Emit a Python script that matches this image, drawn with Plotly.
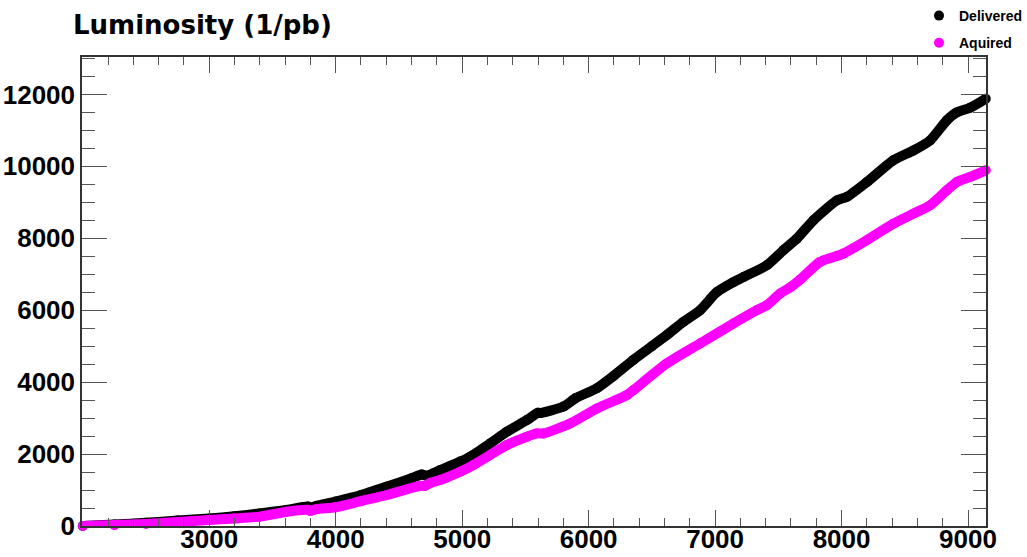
import plotly.graph_objects as go

# ---- data ----
delivered_x = [2000, 2250, 2500, 2750, 3000, 3200, 3400, 3600, 3780, 3800, 3850, 4000, 4200,
               4400, 4600, 4680, 4720, 4830, 4984, 5063, 5221, 5353, 5511, 5600, 5620, 5800,
               5900, 6065, 6200, 6354, 6500, 6618, 6750, 6881, 7013, 7145, 7224, 7409, 7540,
               7646, 7777, 7962, 8041, 8199, 8410, 8568, 8700, 8832, 8911, 9016, 9140]
delivered_y = [0, 40, 90, 150, 210, 270, 350, 440, 540, 510, 560, 680, 860,
               1090, 1330, 1430, 1400, 1560, 1790, 1926, 2296, 2620, 2944, 3150, 3140, 3320,
               3560, 3830, 4180, 4620, 5000, 5310, 5680, 6000, 6500, 6780, 6920, 7250, 7670,
               7990, 8500, 9050, 9150, 9560, 10170, 10440, 10720, 11280, 11500, 11630, 11880]

aquired_x = [2000, 2250, 2500, 2750, 3000, 3200, 3400, 3614, 3780, 3800, 3850, 4000, 4200,
             4405, 4668, 4700, 4750, 4826, 4984, 5089, 5221, 5353, 5511, 5590, 5643, 5854,
             6065, 6302, 6354, 6618, 6881, 7145, 7330, 7409, 7514, 7600, 7672, 7830, 8014,
             8199, 8410, 8568, 8700, 8832, 8911, 9016, 9140]
aquired_y = [0, 25, 56, 110, 167, 210, 260, 398, 450, 420, 470, 520, 690,
             861, 1120, 1110, 1200, 1278, 1509, 1694, 1972, 2250, 2481, 2574, 2574, 2852,
             3269, 3639, 3778, 4519, 5074, 5630, 6000, 6139, 6463, 6650, 6850, 7343, 7574,
             7944, 8407, 8685, 8917, 9333, 9565, 9704, 9889]

x_tick_vals = [3000, 4000, 5000, 6000, 7000, 8000, 9000]
x_tick_text = ["3000", "4000", "5000", "6000", "7000", "8000", "9000"]
y_tick_vals = [0, 2000, 4000, 6000, 8000, 10000, 12000]
y_tick_text = ["0", "2000", "4000", "6000", "8000", "10000", "12000"]

series = [
    ("Delivered", delivered_x, delivered_y, "#000000"),
    ("Aquired", aquired_x, aquired_y, "#ff00ff"),
]

fig = go.Figure()
for name, xs, ys, col in series:
    fig.add_trace(go.Scatter(x=xs, y=ys, mode="lines",
                             line=dict(color=col, width=10, shape="spline", smoothing=0.6),
                             showlegend=False, legendgroup=name, hoverinfo="skip",
                             cliponaxis=False))
    fig.add_trace(go.Scatter(x=xs, y=ys, mode="markers", name=name, legendgroup=name,
                             marker=dict(color=col, size=10, line=dict(width=0)),
                             cliponaxis=False))

axis_common = dict(
    showgrid=False, zeroline=False, showline=True, linecolor="#333333", linewidth=1.5,
    mirror="allticks", ticks="inside", tickcolor="#555555", tickwidth=1, automargin=False,
    tickfont=dict(family="Liberation Sans", size=26, color="#000000", weight="bold"),
)

fig.update_xaxes(
    **axis_common, range=[1994, 9142], tickmode="array", tickvals=x_tick_vals,
    ticktext=x_tick_text, ticklen=16, ticklabelstandoff=-11,
    minor=dict(ticks="inside", ticklen=8, tickmode="linear", tick0=0, dtick=200,
               tickcolor="#555555", tickwidth=1, showgrid=False),
)
fig.update_yaxes(
    **axis_common, range=[0, 13040], tickmode="array", tickvals=y_tick_vals,
    ticktext=y_tick_text, ticklen=25,
    minor=dict(ticks="inside", ticklen=13, tickmode="linear", tick0=0, dtick=500,
               tickcolor="#555555", tickwidth=1, showgrid=False),
)

fig.update_layout(
    width=1027, height=557,
    margin=dict(l=82, r=41, t=57, b=31, pad=0, autoexpand=False),
    paper_bgcolor="white", plot_bgcolor="white",
    title=dict(text="Luminosity (1/pb)", x=73 / 1027, xanchor="left", xref="container",
               y=1 - 16 / 557, yanchor="top", yref="container", automargin=False,
               font=dict(family="DejaVu Sans", size=26, color="#000000", weight="bold")),
    legend=dict(x=919 / 1027, xanchor="left", xref="container",
                y=1 + 6 / 557, yanchor="top", yref="container",
                bgcolor="rgba(0,0,0,0)", tracegroupgap=6, itemwidth=30,
                font=dict(family="Liberation Sans", size=14, color="#000000", weight="bold")),
)

fig.write_html("out.html", config={"displayModeBar": False},
               post_script="document.body.style.margin='0';")
